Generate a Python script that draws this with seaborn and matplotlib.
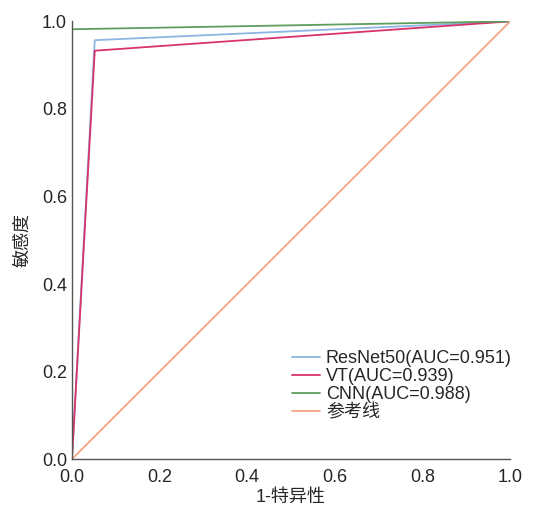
import seaborn as sns
import matplotlib.pyplot as plt
import pandas as pd

# ROC points
resnet_fpr = [0.0, 0.052, 1.0]
resnet_tpr = [0.0, 0.957, 1.0]
vt_fpr = [0.0, 0.052, 1.0]
vt_tpr = [0.0, 0.933, 1.0]
cnn_fpr = [0.0, 0.0, 1.0]
cnn_tpr = [0.0, 0.982, 1.0]
ref_fpr = [0.0, 1.0]
ref_tpr = [0.0, 1.0]

labels = ['ResNet50(AUC=0.951)', 'VT(AUC=0.939)', 'CNN(AUC=0.988)', '参考线']
colors = ['#8db4e2', '#d7336a', '#5f9e5f', '#f4a582']

sns.set_style('white')
plt.rcParams['font.family'] = ['Liberation Sans', 'Noto Sans CJK SC']

fig, ax = plt.subplots(figsize=(5.41, 5.09), dpi=100)

series = [(resnet_fpr, resnet_tpr), (vt_fpr, vt_tpr), (cnn_fpr, cnn_tpr), (ref_fpr, ref_tpr)]
for (fpr, tpr), lab, c in zip(series, labels, colors):
    df = pd.DataFrame({'fpr': fpr, 'tpr': tpr})
    sns.lineplot(data=df, x='fpr', y='tpr', ax=ax, color=c, label=lab,
                 linewidth=1.3, sort=False, estimator=None)

ax.set_xlim(0, 1)
ax.set_ylim(0, 1)
ax.set_xticks([0, 0.2, 0.4, 0.6, 0.8, 1.0])
ax.set_yticks([0, 0.2, 0.4, 0.6, 0.8, 1.0])
ax.tick_params(direction='in', length=4, width=1, labelsize=13, color='#333333')
ax.tick_params(axis='x', pad=7)
for s in ['top', 'right']:
    ax.spines[s].set_visible(False)
for s in ['left', 'bottom']:
    ax.spines[s].set_color('#555555')
    ax.spines[s].set_linewidth(1)

ax.set_xlabel('1-特异性', fontsize=13, labelpad=2)
ax.set_ylabel('敏感度', fontsize=13, labelpad=8)

leg = ax.legend(loc='lower right', bbox_to_anchor=(1.02, 0.07), frameon=False,
                fontsize=13, handlelength=1.6, handletextpad=0.3,
                labelspacing=0.05, borderaxespad=0)

plt.subplots_adjust(left=0.133, right=0.943, top=0.958, bottom=0.098)
plt.savefig('out.png')
